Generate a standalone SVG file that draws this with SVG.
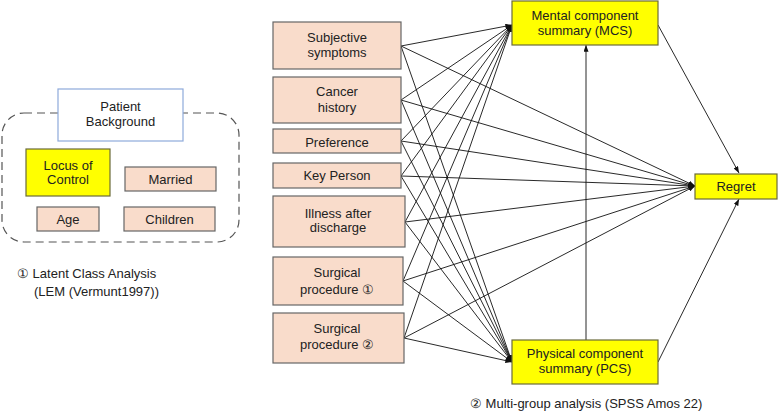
<svg xmlns="http://www.w3.org/2000/svg" width="778" height="412" viewBox="0 0 778 412">
<style>
text{font-family:"Liberation Sans",Arial,sans-serif;font-size:13px;fill:#222;text-anchor:middle}
.pe{fill:#f9dccb;stroke:#666;stroke-width:1.2}
.ye{fill:#ffff00;stroke:#6b6b3a;stroke-width:1.2}
.ln{stroke:#111;stroke-width:0.9;fill:none}
.note{text-anchor:start}
</style>
<defs>
<marker id="ah" viewBox="0 0 8 6" refX="8" refY="3" markerWidth="7" markerHeight="5" markerUnits="userSpaceOnUse" orient="auto">
<path d="M0,0 L8,3 L0,6 Z" fill="#111"/>
</marker>
</defs>
<rect width="778" height="412" fill="#fff"/>

<g id="latent-group">
<rect x="2" y="113" width="237" height="129" rx="22" ry="22" fill="none" stroke="#555" stroke-width="1.2" stroke-dasharray="8,5"/>
</g>
<g id="patient-background">
<rect x="58" y="89" width="125" height="52" fill="#fff" stroke="#8eaadb" stroke-width="1.2"/>
<text x="120.5" y="110.5">Patient</text>
<text x="120.5" y="125.5">Background</text>
</g>
<g id="locus">
<rect class="ye" x="26" y="149" width="84" height="47"/>
<text x="68" y="169.5">Locus of</text>
<text x="68" y="184">Control</text>
</g>
<g id="married">
<rect class="pe" x="125" y="167" width="91" height="24"/>
<text x="170.5" y="184">Married</text>
</g>
<g id="age">
<rect class="pe" x="37" y="207" width="62" height="24"/>
<text x="68" y="224">Age</text>
</g>
<g id="children">
<rect class="pe" x="124" y="207" width="91" height="24"/>
<text x="169.5" y="224">Children</text>
</g>
<g id="note1">
<text class="note" x="17" y="277.5">① Latent Class Analysis</text>
<text class="note" x="34" y="295.5">(LEM (Vermunt1997))</text>
</g>

<g id="connectors">
<line class="ln" x1="401" y1="46" x2="512" y2="25" marker-end="url(#ah)"/>
<line class="ln" x1="401" y1="100" x2="512" y2="25" marker-end="url(#ah)"/>
<line class="ln" x1="401" y1="141" x2="512" y2="25" marker-end="url(#ah)"/>
<line class="ln" x1="401" y1="176" x2="512" y2="25" marker-end="url(#ah)"/>
<line class="ln" x1="405" y1="222" x2="512" y2="25" marker-end="url(#ah)"/>
<line class="ln" x1="403" y1="281" x2="512" y2="25" marker-end="url(#ah)"/>
<line class="ln" x1="404" y1="338" x2="512" y2="25" marker-end="url(#ah)"/>

<line class="ln" x1="401" y1="46" x2="512" y2="362" marker-end="url(#ah)"/>
<line class="ln" x1="401" y1="100" x2="512" y2="362" marker-end="url(#ah)"/>
<line class="ln" x1="401" y1="141" x2="512" y2="362" marker-end="url(#ah)"/>
<line class="ln" x1="401" y1="176" x2="512" y2="362" marker-end="url(#ah)"/>
<line class="ln" x1="405" y1="222" x2="512" y2="362" marker-end="url(#ah)"/>
<line class="ln" x1="403" y1="281" x2="512" y2="362" marker-end="url(#ah)"/>
<line class="ln" x1="404" y1="338" x2="512" y2="362" marker-end="url(#ah)"/>

<line class="ln" x1="401" y1="46" x2="695" y2="186" marker-end="url(#ah)"/>
<line class="ln" x1="401" y1="100" x2="695" y2="186" marker-end="url(#ah)"/>
<line class="ln" x1="401" y1="141" x2="695" y2="186" marker-end="url(#ah)"/>
<line class="ln" x1="401" y1="176" x2="695" y2="186" marker-end="url(#ah)"/>
<line class="ln" x1="405" y1="222" x2="695" y2="186" marker-end="url(#ah)"/>
<line class="ln" x1="403" y1="281" x2="695" y2="186" marker-end="url(#ah)"/>
<line class="ln" x1="404" y1="338" x2="695" y2="186" marker-end="url(#ah)"/>

<line class="ln" x1="586" y1="340" x2="586" y2="45" marker-end="url(#ah)"/>
<line class="ln" x1="658" y1="25" x2="739" y2="173" marker-end="url(#ah)"/>
<line class="ln" x1="658" y1="362" x2="739" y2="199" marker-end="url(#ah)"/>
</g>

<g id="subjective">
<rect class="pe" x="273" y="22" width="128" height="47"/>
<text x="337" y="41.5">Subjective</text>
<text x="337" y="56.5">symptoms</text>
</g>
<g id="cancer">
<rect class="pe" x="273" y="77" width="128" height="46"/>
<text x="337" y="96">Cancer</text>
<text x="337" y="111.5">history</text>
</g>
<g id="preference">
<rect class="pe" x="273" y="129" width="128" height="24"/>
<text x="337" y="147">Preference</text>
</g>
<g id="keyperson">
<rect class="pe" x="273" y="163" width="128" height="25"/>
<text x="337" y="180">Key Person</text>
</g>
<g id="illness">
<rect class="pe" x="273" y="196" width="132" height="51"/>
<text x="338" y="217.5">Illness after</text>
<text x="338" y="231.5">discharge</text>
</g>
<g id="surgical1">
<rect class="pe" x="273" y="257" width="130" height="48"/>
<text x="337" y="276.5">Surgical</text>
<text x="337" y="293.5">procedure ①</text>
</g>
<g id="surgical2">
<rect class="pe" x="273" y="313" width="131" height="50"/>
<text x="337" y="332.5">Surgical</text>
<text x="337" y="348.5">procedure ②</text>
</g>

<g id="mcs">
<rect class="ye" x="512" y="1" width="146" height="44"/>
<text x="585" y="19.5">Mental component</text>
<text x="585" y="34.5">summary (MCS)</text>
</g>
<g id="pcs">
<rect class="ye" x="512" y="340" width="146" height="44"/>
<text x="585" y="357.5">Physical component</text>
<text x="585" y="372.5">summary (PCS)</text>
</g>
<g id="regret">
<rect class="ye" x="695" y="174" width="82" height="25"/>
<text x="736" y="191">Regret</text>
</g>
<g id="note2">
<text class="note" x="470" y="408">② Multi-group analysis (SPSS Amos 22)</text>
</g>
</svg>
